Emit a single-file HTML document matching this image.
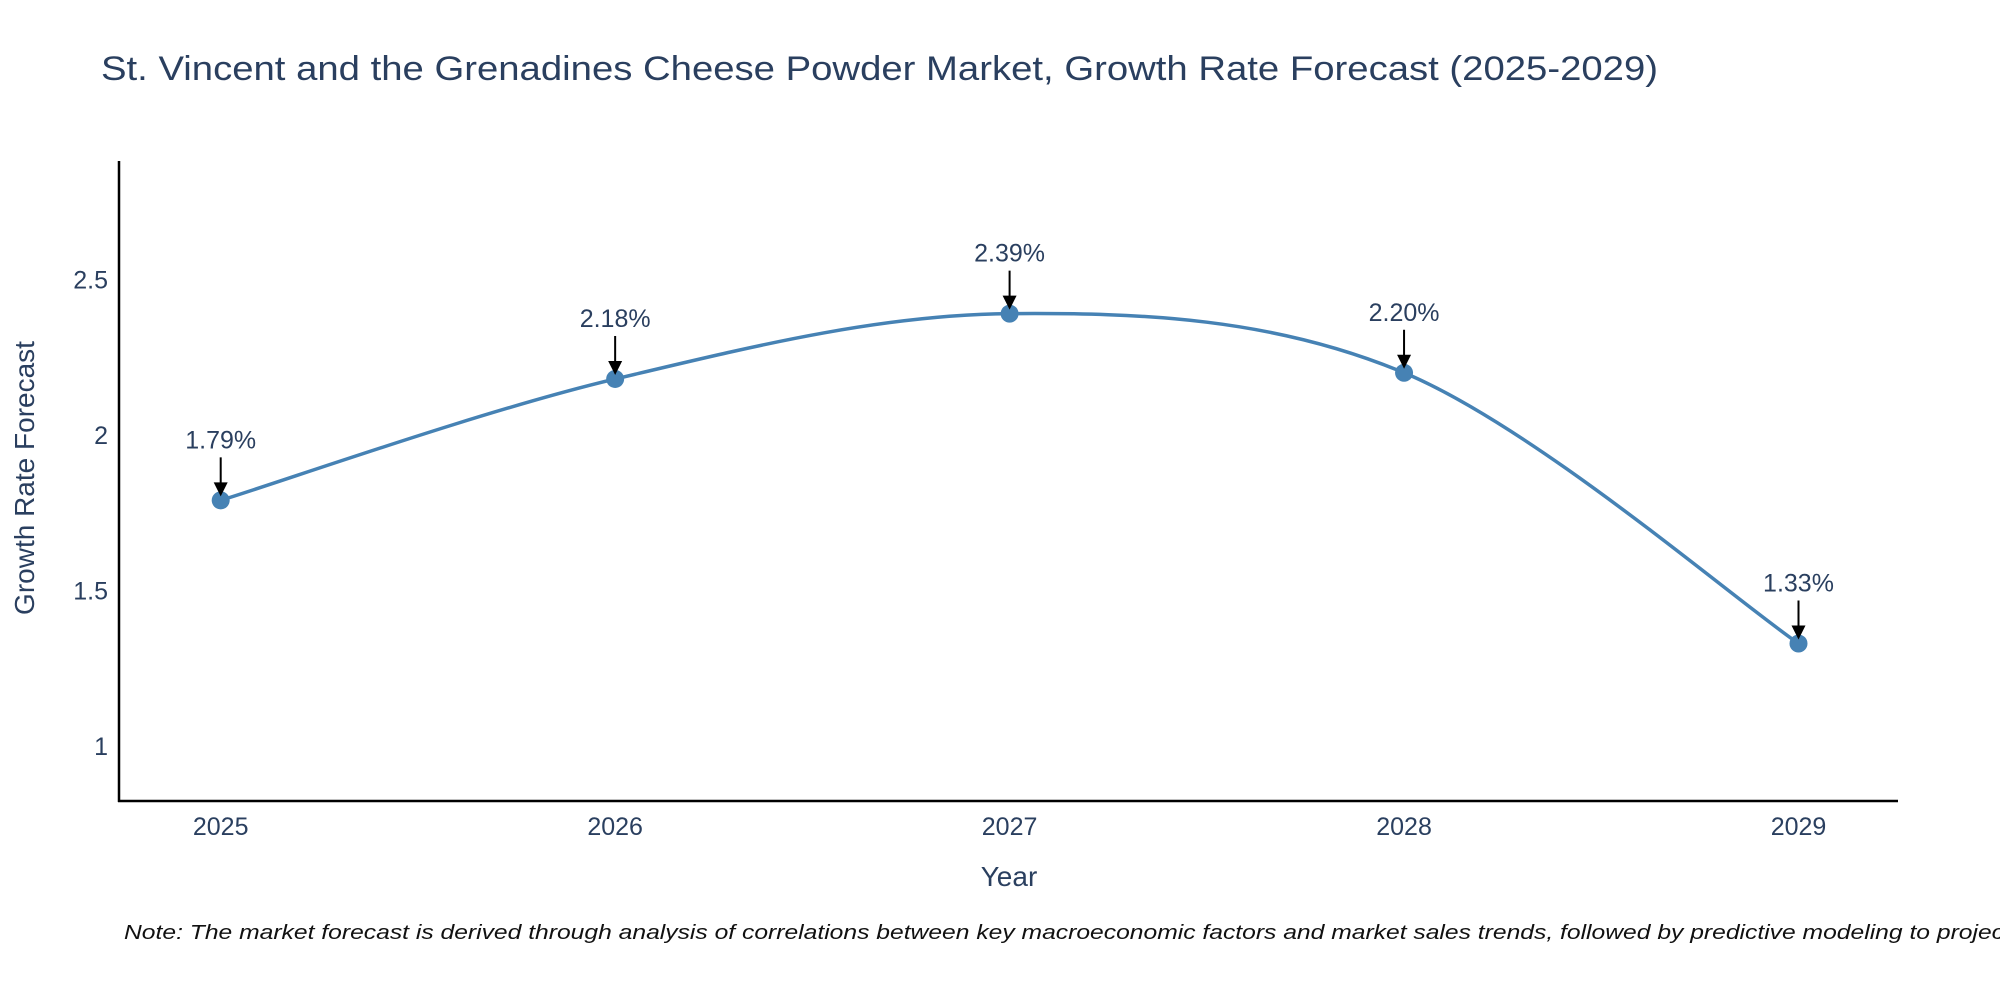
<!DOCTYPE html>
<html><head><meta charset="utf-8"><style>
html,body{margin:0;padding:0;background:#fff;overflow:hidden;}
svg text{font-family:"Liberation Sans",sans-serif;fill:#2a3f5f;}
</style></head><body>
<svg id="chart" width="2000" height="1000" viewBox="0 0 2000 1000" xmlns="http://www.w3.org/2000/svg">
<rect width="2000" height="1000" fill="#fff"/>
<text x="101" y="80" font-size="34" textLength="1557" lengthAdjust="spacingAndGlyphs">St. Vincent and the Grenadines Cheese Powder Market, Growth Rate Forecast (2025-2029)</text>
<g id="yticks"></g>
<g id="xticks"></g>
<line x1="119" y1="161" x2="119" y2="802" stroke="#000" stroke-width="2.5"/>
<line x1="118" y1="801" x2="1898" y2="801" stroke="#000" stroke-width="2.5"/>
<path id="line" fill="none" stroke="#4682b4" stroke-width="3.5"/>
<g id="points"></g>
<g id="annots"></g>
<text transform="translate(34,478) rotate(-90)" text-anchor="middle" font-size="28">Growth Rate Forecast</text>
<text x="1009" y="886" text-anchor="middle" font-size="28">Year</text>
<text x="124" y="939" font-size="20" font-style="italic" style="fill:#111" textLength="2028" lengthAdjust="spacingAndGlyphs">Note: The market forecast is derived through analysis of correlations between key macroeconomic factors and market sales trends, followed by predictive modeling to project future sales.</text>
</svg>
<script>
const years = [2025, 2026, 2027, 2028, 2029];
const values = [1.79, 2.18, 2.39, 2.20, 1.33];
const labels = ["1.79%", "2.18%", "2.39%", "2.20%", "1.33%"];
const yTicks = [1, 1.5, 2, 2.5];
const yTickLabels = ["1", "1.5", "2", "2.5"];
const NS = "http://www.w3.org/2000/svg";
function xs(v){return 220.7 + (v - 2025) * 394.45;}
function ys(v){return 746.2 - (v - 1) * 311.2;}
function mk(tag, attrs, parent){const e=document.createElementNS(NS,tag);for(const k in attrs)e.setAttribute(k,attrs[k]);parent.appendChild(e);return e;}
const yt=document.getElementById('yticks');
yTicks.forEach((t,i)=>{
  const e=mk('text',{x:108,y:ys(t)+9,'text-anchor':'end','font-size':'25'},yt);
  
  
  e.textContent=yTickLabels[i];
});
const xt=document.getElementById('xticks');
years.forEach(y=>{
  const e=mk('text',{x:xs(y),y:835,'text-anchor':'middle','font-size':'25'},xt);
  
  
  e.textContent=String(y);
});
const P=years.map((y,i)=>[xs(y),ys(values[i])]);
let d='M'+P[0][0]+','+P[0][1];
const s=0.5/3*2;
for(let i=0;i<P.length-1;i++){
  const p0=P[Math.max(0,i-1)],p1=P[i],p2=P[i+1],p3=P[Math.min(P.length-1,i+2)];
  const c1=[p1[0]+(p2[0]-p0[0])*s/2,p1[1]+(p2[1]-p0[1])*s/2];
  const c2=[p2[0]-(p3[0]-p1[0])*s/2,p2[1]-(p3[1]-p1[1])*s/2];
  d+=' C'+c1[0]+','+c1[1]+' '+c2[0]+','+c2[1]+' '+p2[0]+','+p2[1];
}
document.getElementById('line').setAttribute('d',d);
const pts=document.getElementById('points'),an=document.getElementById('annots');
P.forEach((p,i)=>{
  const c=mk('circle',{cx:p[0],cy:p[1],r:9,fill:'#4682b4'},pts);
  
  
  const l=mk('line',{x1:p[0],y1:p[1]-43,x2:p[0],y2:p[1]-14,stroke:'#000','stroke-width':2},an);
  
  
  const h=mk('polygon',{points:(p[0]-7)+','+(p[1]-18)+' '+(p[0]+7)+','+(p[1]-18)+' '+p[0]+','+(p[1]-4),fill:'#000'},an);
  
  
  const t=mk('text',{x:p[0],y:p[1]-52,'text-anchor':'middle','font-size':'25'},an);
  
  
  t.textContent=labels[i];
});
</script>
</body></html>
